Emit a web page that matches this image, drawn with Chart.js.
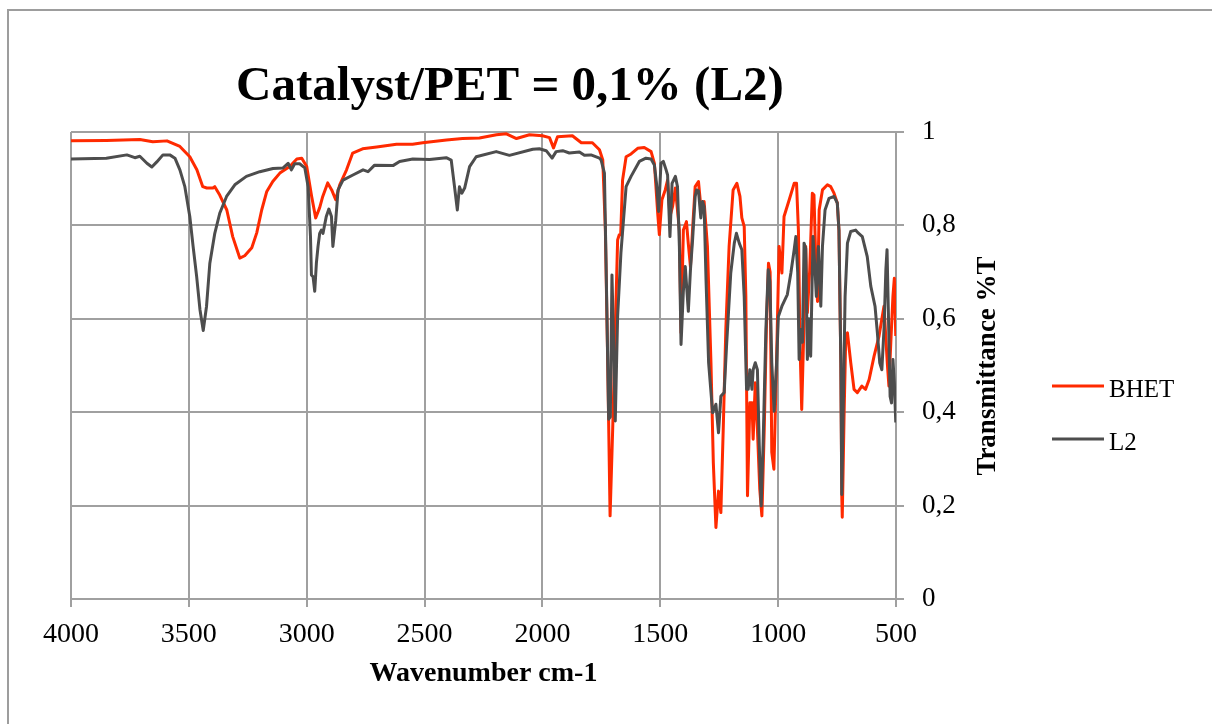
<!DOCTYPE html>
<html>
<head>
<meta charset="utf-8">
<title>Catalyst/PET = 0,1% (L2)</title>
<script src="https://cdn.jsdelivr.net/npm/chart.js@4.4.1/dist/chart.umd.min.js"></script>
<style>
  html, body { margin: 0; padding: 0; background: #fff; }
  #wrap { position: relative; width: 1212px; height: 724px; overflow: hidden; }
  #frame { position: absolute; left: 7px; top: 9px; width: 1300px; height: 800px;
           border-left: 2px solid #9d9d9d; border-top: 2px solid #9d9d9d; }
  #chart { position: absolute; left: 0; top: 0; }
</style>
</head>
<body>
<div id="wrap">
  <div id="frame"></div>
  <canvas id="chart" width="1212" height="724"></canvas>
</div>
<script>
const chartTitle = 'Catalyst/PET = 0,1% (L2)';
const xTitle = 'Wavenumber cm-1';
const yTitle = 'Transmittance %T';

const xTicks = [4000, 3500, 3000, 2500, 2000, 1500, 1000, 500];
const xTickLabels = ['4000', '3500', '3000', '2500', '2000', '1500', '1000', '500'];
const yTicks = [0, 0.2, 0.4, 0.6, 0.8, 1];
const yTickLabels = ['0', '0,2', '0,4', '0,6', '0,8', '1'];

const seriesNames = ['BHET', 'L2'];
const seriesColors = ['#ff2a00', '#4d4d4d'];

// BHET spectrum
const bhetWn = [4000, 3850, 3708, 3653, 3593, 3538, 3496, 3466, 3441, 3424, 3398, 3390, 3369, 3339, 3314, 3284,
  3263, 3233, 3212, 3191, 3170, 3144, 3114, 3072, 3042, 3021, 3000, 2979, 2962, 2945, 2932, 2911, 2894, 2877,
  2860, 2831, 2805, 2763, 2703, 2619, 2551, 2508, 2407, 2339, 2267, 2195, 2153, 2110, 2055, 2000, 1970, 1953,
  1936, 1873, 1835, 1788, 1758, 1744, 1733, 1723, 1713, 1702, 1691, 1681, 1674, 1668, 1660, 1645, 1624, 1596,
  1568, 1539, 1525, 1511, 1504, 1493, 1479, 1469, 1459, 1448, 1436, 1419, 1412, 1402, 1389, 1381, 1372, 1362,
  1352, 1338, 1328, 1314, 1300, 1285, 1275, 1264, 1253, 1243, 1233, 1222, 1208, 1191, 1175, 1162, 1154, 1144,
  1137, 1130, 1120, 1111, 1106, 1097, 1088, 1078, 1069, 1059, 1050, 1041, 1034, 1027, 1018, 1007, 996, 984,
  975, 953, 932, 922, 914, 907, 900, 891, 883, 876, 866, 855, 848, 840, 833, 826, 812, 791, 777, 763, 749, 742,
  734, 730, 728, 720, 713, 706, 692, 678, 664, 645, 629, 614, 593, 572, 551, 537, 530, 522, 513, 507, 501];
const bhetT = [0.981, 0.982, 0.984, 0.979, 0.981, 0.969, 0.947, 0.919, 0.883, 0.880, 0.880, 0.883, 0.865, 0.833,
  0.776, 0.730, 0.735, 0.752, 0.784, 0.833, 0.872, 0.894, 0.912, 0.926, 0.942, 0.944, 0.926, 0.862, 0.816, 0.838,
  0.862, 0.891, 0.876, 0.855, 0.887, 0.919, 0.955, 0.964, 0.968, 0.974, 0.974, 0.977, 0.983, 0.986, 0.987, 0.994,
  0.996, 0.986, 0.994, 0.992, 0.988, 0.966, 0.990, 0.992, 0.977, 0.977, 0.962, 0.940, 0.790, 0.506, 0.178, 0.363,
  0.577, 0.769, 0.780, 0.780, 0.897, 0.947, 0.953, 0.965, 0.967, 0.958, 0.933, 0.826, 0.780, 0.855, 0.876, 0.897,
  0.819, 0.840, 0.880, 0.790, 0.570, 0.790, 0.808, 0.760, 0.712, 0.800, 0.883, 0.894, 0.840, 0.851, 0.755, 0.506,
  0.292, 0.153, 0.231, 0.185, 0.363, 0.577, 0.755, 0.876, 0.890, 0.862, 0.816, 0.798, 0.648, 0.221, 0.420, 0.420,
  0.342, 0.463, 0.363, 0.235, 0.178, 0.363, 0.577, 0.719, 0.700, 0.314, 0.278, 0.506, 0.755, 0.698, 0.819, 0.855,
  0.890, 0.890, 0.790, 0.541, 0.406, 0.577, 0.755, 0.613, 0.705, 0.869, 0.865, 0.719, 0.637, 0.833, 0.876, 0.887,
  0.883, 0.869, 0.848, 0.790, 0.506, 0.221, 0.175, 0.400, 0.563, 0.570, 0.506, 0.449, 0.442, 0.456, 0.449, 0.470,
  0.520, 0.563, 0.627, 0.506, 0.456, 0.550, 0.648, 0.687, 0.563];

// L2 spectrum
const l2Wn = [4000, 3850, 3763, 3729, 3708, 3678, 3657, 3636, 3610, 3581, 3559, 3538, 3517, 3496, 3482, 3467,
  3453, 3439, 3425, 3411, 3390, 3369, 3340, 3305, 3256, 3199, 3143, 3100, 3079, 3065, 3051, 3030, 3008, 2994,
  2984, 2980, 2973, 2966, 2959, 2952, 2945, 2938, 2931, 2917, 2906, 2895, 2889, 2877, 2867, 2846, 2804, 2761,
  2740, 2712, 2634, 2606, 2550, 2479, 2408, 2387, 2373, 2361, 2352, 2342, 2330, 2309, 2281, 2196, 2140, 2041,
  2013, 1984, 1959, 1942, 1914, 1886, 1843, 1822, 1794, 1758, 1751, 1737, 1730, 1719, 1712, 1705, 1698, 1691,
  1681, 1667, 1645, 1624, 1589, 1561, 1539, 1525, 1516, 1507, 1497, 1487, 1476, 1469, 1459, 1450, 1436, 1427,
  1419, 1412, 1402, 1394, 1381, 1372, 1363, 1352, 1346, 1338, 1328, 1321, 1314, 1306, 1295, 1278, 1264, 1253,
  1243, 1229, 1219, 1201, 1186, 1177, 1165, 1154, 1144, 1134, 1127, 1120, 1111, 1106, 1097, 1088, 1080, 1072,
  1064, 1052, 1042, 1035, 1027, 1017, 1007, 999, 984, 975, 961, 946, 932, 925, 917, 911, 904, 897, 890, 883,
  876, 869, 862, 852, 843, 838, 829, 819, 812, 801, 784, 763, 749, 742, 734, 730, 723, 716, 706, 692, 671, 663,
  643, 622, 607, 589, 579, 569, 560, 551, 543, 538, 532, 525, 519, 513, 507, 501];
const l2T = [0.942, 0.944, 0.951, 0.945, 0.948, 0.933, 0.925, 0.936, 0.951, 0.951, 0.944, 0.919, 0.883, 0.819,
  0.755, 0.691, 0.620, 0.575, 0.627, 0.719, 0.783, 0.826, 0.862, 0.887, 0.905, 0.915, 0.922, 0.923, 0.933, 0.919,
  0.932, 0.932, 0.923, 0.883, 0.776, 0.694, 0.690, 0.659, 0.719, 0.755, 0.783, 0.790, 0.783, 0.819, 0.835, 0.819,
  0.755, 0.810, 0.876, 0.897, 0.908, 0.919, 0.915, 0.929, 0.928, 0.937, 0.942, 0.941, 0.945, 0.940, 0.883, 0.833,
  0.883, 0.869, 0.880, 0.926, 0.947, 0.958, 0.950, 0.963, 0.964, 0.960, 0.944, 0.958, 0.960, 0.955, 0.957, 0.950,
  0.951, 0.944, 0.940, 0.912, 0.719, 0.385, 0.390, 0.694, 0.550, 0.381, 0.605, 0.741, 0.883, 0.905, 0.937, 0.944,
  0.942, 0.929, 0.890, 0.830, 0.933, 0.937, 0.920, 0.908, 0.776, 0.890, 0.905, 0.883, 0.755, 0.545, 0.660, 0.712,
  0.616, 0.705, 0.769, 0.862, 0.876, 0.874, 0.816, 0.851, 0.840, 0.684, 0.506, 0.399, 0.417, 0.356, 0.434, 0.442,
  0.541, 0.698, 0.762, 0.783, 0.762, 0.748, 0.648, 0.449, 0.449, 0.491, 0.449, 0.491, 0.506, 0.491, 0.328, 0.199,
  0.328, 0.577, 0.705, 0.680, 0.506, 0.402, 0.500, 0.605, 0.627, 0.637, 0.652, 0.698, 0.748, 0.776, 0.700, 0.513,
  0.577, 0.550, 0.762, 0.750, 0.513, 0.600, 0.520, 0.776, 0.700, 0.648, 0.755, 0.627, 0.755, 0.833, 0.858, 0.862,
  0.848, 0.790, 0.506, 0.224, 0.434, 0.648, 0.762, 0.787, 0.790, 0.785, 0.776, 0.733, 0.670, 0.627, 0.570, 0.506,
  0.491, 0.577, 0.705, 0.748, 0.605, 0.434, 0.420, 0.513, 0.463, 0.378];

const SERIF = '"Liberation Serif", "Times New Roman", serif';
const GRID = '#a0a0a0';

const toPoints = (wn, t) => wn.map((x, i) => ({ x, y: t[i] }));

// title, rotated y title and legend sit where Excel put them
const excelText = {
  id: 'excelText',
  afterDraw(chart) {
    const { ctx } = chart;
    ctx.save();
    ctx.fillStyle = '#000';
    ctx.textAlign = 'center';
    ctx.textBaseline = 'alphabetic';
    ctx.font = `bold 49px ${SERIF}`;
    ctx.fillText(chartTitle, 510, 100);

    ctx.translate(995, 366);
    ctx.rotate(-Math.PI / 2);
    ctx.font = `bold 27px ${SERIF}`;
    ctx.fillText(yTitle, 0, 0);
    ctx.restore();

    ctx.save();
    chart.data.datasets.forEach((ds, i) => {
      const y = 386 + i * 53;
      ctx.strokeStyle = ds.borderColor;
      ctx.lineWidth = 3;
      ctx.beginPath();
      ctx.moveTo(1052, y);
      ctx.lineTo(1104, y);
      ctx.stroke();
      ctx.fillStyle = '#000';
      ctx.font = `25px ${SERIF}`;
      ctx.textAlign = 'left';
      ctx.textBaseline = 'alphabetic';
      ctx.fillText(ds.label, 1109, y + 11);
    });
    ctx.restore();
  },
};

Chart.defaults.font.family = SERIF;
Chart.defaults.color = '#000';

new Chart(document.getElementById('chart'), {
  type: 'line',
  data: {
    datasets: [
      { label: seriesNames[0], data: toPoints(bhetWn, bhetT), borderColor: seriesColors[0], order: 2 },
      { label: seriesNames[1], data: toPoints(l2Wn, l2T), borderColor: seriesColors[1], order: 1 },
    ].map(ds => ({ ...ds, borderWidth: 3, pointRadius: 0, fill: false, tension: 0, borderJoinStyle: 'round' })),
  },
  options: {
    responsive: false,
    animation: false,
    devicePixelRatio: 1,
    layout: { padding: { left: 71, top: 132, right: 0, bottom: 0 } },
    plugins: { legend: { display: false }, title: { display: false }, tooltip: { enabled: false } },
    scales: {
      x: {
        type: 'linear',
        reverse: true,
        min: xTicks[xTicks.length - 1],
        max: xTicks[0],
        afterBuildTicks: s => { s.ticks = xTicks.map(value => ({ value })); },
        afterFit: s => { s.height = 125; },
        grid: { color: GRID, lineWidth: 2, tickLength: 8 },
        border: { color: GRID, width: 2 },
        ticks: {
          font: { size: 28 },
          padding: 11,
          maxRotation: 0,
          callback: v => xTickLabels[xTicks.indexOf(v)],
        },
        title: {
          display: true,
          text: xTitle,
          font: { size: 28, weight: 'bold' },
          padding: { top: 0, bottom: 33 },
        },
      },
      y: {
        position: 'right',
        min: 0,
        max: 1,
        afterBuildTicks: s => { s.ticks = yTicks.map(value => ({ value })); },
        afterFit: s => { s.width = 316; },
        grid: { color: GRID, lineWidth: 2, tickLength: 8 },
        border: { color: GRID, width: 2 },
        ticks: {
          font: { size: 27 },
          padding: 18,
          callback: v => yTickLabels[yTicks.findIndex(t => Math.abs(t - v) < 1e-9)],
        },
      },
    },
  },
  plugins: [excelText],
});
</script>
</body>
</html>
